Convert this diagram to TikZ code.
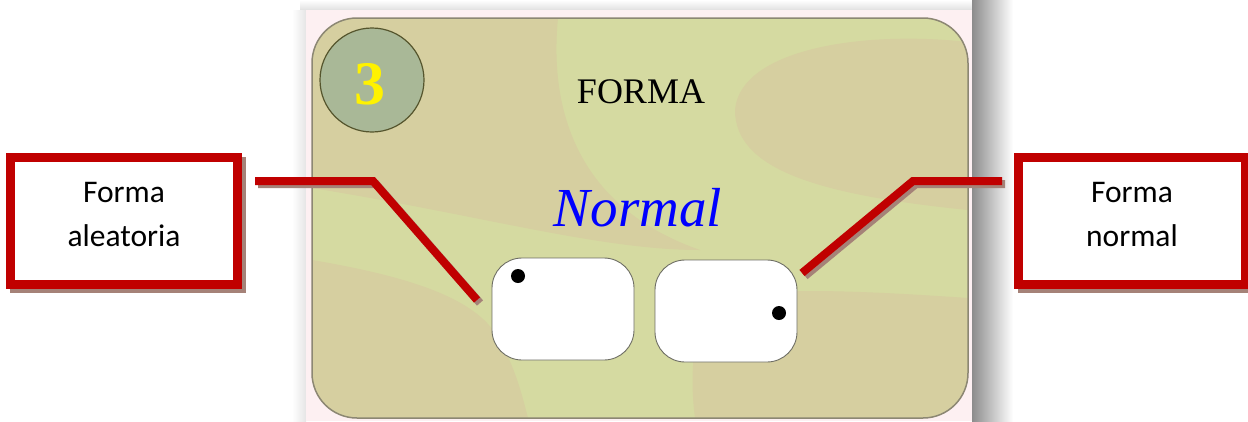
\documentclass[tikz,border=0pt]{standalone}
\usepackage{fontspec}
\setmainfont{Liberation Serif}
\newfontfamily\calib{Carlito}
\definecolor{bgA}{RGB}{214,207,160}
\definecolor{bgB}{RGB}{213,218,161}
\definecolor{pinkbg}{RGB}{253,240,242}
\definecolor{cardline}{RGB}{140,135,115}
\definecolor{circfill}{RGB}{169,184,151}
\definecolor{circline}{RGB}{85,85,45}
\definecolor{redc}{RGB}{192,0,0}
\definecolor{shadc}{RGB}{165,130,120}
\definecolor{boxline}{RGB}{110,110,100}
\tikzset{
  callout/.style={draw=redc, line width=9pt, fill=white, minimum width=227pt, minimum height=127pt, inner sep=0pt},
  callouttext/.style={align=center, inner sep=0pt, font=\calib\fontsize{31.5}{44}\selectfont},
  calloutshadow/.style={draw=shadc, line width=9pt, minimum width=227pt, minimum height=127pt, inner sep=0pt},
  leader/.style={draw=redc, line width=8pt, miter limit=10},
  leadershadow/.style={draw=shadc, line width=8pt, miter limit=10},
  whitebox/.style={draw=boxline, line width=0.9pt, fill=white, rounded corners=30pt},
  dot/.style={fill=black, circle, minimum size=14pt, inner sep=0pt}
}
\begin{document}
\begin{tikzpicture}[x=1pt,y=-1pt]
\useasboundingbox (0,0) rectangle (1248,421);
% card shadows and pink background
\shade[top color=white, bottom color=black!12] (300,0) rectangle (975,10);
\shade[left color=white, right color=black!10] (292,10) rectangle (306,421);
\shade[left color=black!45, right color=white] (972,0) rectangle (1013,421);
\fill[pinkbg] (306,10) rectangle (972,421);
% card
\begin{scope}
\path[clip, rounded corners=45pt] (312,18) rectangle (968,418);
\fill[bgB] (312,18) rectangle (968,418);
\fill[bgA] (312,18) -- (558,18) .. controls (548,120) and (585,210) .. (700,250)
   .. controls (600,250) and (480,215) .. (312,188) -- cycle;
\fill[bgA] (968,42) .. controls (860,30) and (740,50) .. (735,110)
   .. controls (735,170) and (820,195) .. (968,210) -- cycle;
\fill[bgA] (312,260) .. controls (400,275) and (470,295) .. (495,333)
   .. controls (515,365) and (522,395) .. (528,418) -- (312,418) -- cycle;
\fill[bgA] (968,298) .. controls (880,292) and (760,285) .. (720,300)
   .. controls (690,320) and (690,380) .. (695,418) -- (968,418) -- cycle;
\end{scope}
\draw[cardline, line width=1.5pt, rounded corners=45pt] (312,18) rectangle (968,418);
% number circle
\node[circle, draw=circline, line width=1.2pt, fill=circfill, minimum size=104pt, inner sep=0pt] (num) at (372,80) {};
\node[anchor=base, text=yellow, font=\fontsize{62}{62}\selectfont\bfseries] (three) at (370,104) {3};
\node[anchor=base, font=\fontsize{36}{36}\selectfont] (title) at (641,103) {FORMA};
\node[anchor=base, text=blue, font=\fontsize{55}{55}\selectfont\itshape] (normal) at (638,226) {Normal};
% white boxes
\draw[whitebox] (492,258) rectangle (634,360);
\draw[whitebox] (655,260) rectangle (797,362);
\node[dot] (d1) at (518,276) {};
\node[dot] (d2) at (779,313) {};
% leader lines
\coordinate (la1) at (255,181);
\coordinate (la2) at (373,181);
\coordinate (la3) at (477,300);
\coordinate (lb1) at (1002,181);
\coordinate (lb2) at (913,181);
\coordinate (lb3) at (802,273);
\draw[leadershadow] ([shift={(3,3)}]la1) -- ([shift={(3,3)}]la2) -- ([shift={(3,3)}]la3);
\draw[leader] (la1) -- (la2) -- (la3);
\draw[leadershadow] ([shift={(3,3)}]lb1) -- ([shift={(3,3)}]lb2) -- ([shift={(3,3)}]lb3);
\draw[leader] (lb1) -- (lb2) -- (lb3);
% callout boxes
\node[calloutshadow] (sa) at (128,225) {};
\node[callout] (ca) at (124,221) {};
\node[callouttext] (ta) at (124,214.5) {Forma\\aleatoria};
\node[calloutshadow] (sb) at (1136,225) {};
\node[callout] (cb) at (1132,221) {};
\node[callouttext] (tb) at (1132,214.5) {Forma\\normal};
\end{tikzpicture}
\end{document}
